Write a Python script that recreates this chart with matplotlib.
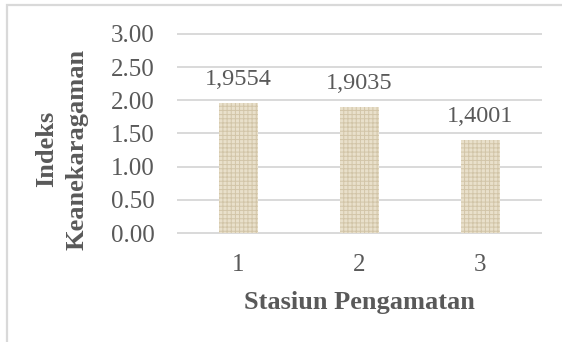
import matplotlib
matplotlib.use("Agg")
import matplotlib.pyplot as plt
from matplotlib.patches import Rectangle

# diversity index per observation station
stations = ["1", "2", "3"]
index_values = [1.9554, 1.9035, 1.4001]
y_ticks = [0.0, 0.5, 1.0, 1.5, 2.0, 2.5, 3.0]

TEXT = "#595959"
GRID = "#d9d9d9"

plt.rcParams["font.family"] = ["Liberation Serif", "DejaVu Serif"]
plt.rcParams["hatch.linewidth"] = 0.7

fig = plt.figure(figsize=(5.62, 3.42), dpi=100)
ax = fig.add_axes([0.3167, 0.3187, 0.9626 - 0.3167, 0.9006 - 0.3187])

# light frame around the whole chart, open on the right and bottom
fig.patches.append(Rectangle((0.0116, -0.2), 1.5, 0.9868 + 0.2,
                             transform=fig.transFigure, fill=False,
                             edgecolor=GRID, linewidth=1.6))

x = list(range(1, len(stations) + 1))
bars = ax.bar(x, index_values, width=0.32, color="#e9e0cb",
              edgecolor="#d2c5a8", linewidth=0, hatch="++++", zorder=2)

for xi, v in zip(x, index_values):
    ax.annotate(f"{v:.4f}".replace(".", ","), (xi, v),
                xytext=(0, 13), textcoords="offset points",
                ha="center", va="baseline", fontsize=17.5, color=TEXT)

ax.set_xlim(0.5, 3.5)
ax.set_ylim(0, 3)
ax.set_xticks(x)
ax.set_xticklabels(stations)
ax.set_yticks(y_ticks)
ax.set_yticklabels([f"{t:.2f}" for t in y_ticks])
ax.tick_params(axis="both", length=0, labelsize=18, labelcolor=TEXT)
ax.tick_params(axis="y", pad=17)
ax.tick_params(axis="x", pad=15)

ax.set_axisbelow(True)
ax.yaxis.grid(True, color=GRID, linewidth=1.4)
for gl in ax.get_ygridlines():
    gl.set_clip_on(False)
for s in ax.spines.values():
    s.set_visible(False)

fig.text(0.110, 0.564, "Indeks\nKeanekaragaman", rotation=90,
         ha="center", va="center", multialignment="center",
         fontsize=19, fontweight="bold", color=TEXT, linespacing=1.45)
fig.text(0.6397, 0.0965, "Stasiun Pengamatan", ha="center", va="baseline",
         fontsize=19, fontweight="bold", color=TEXT)

fig.savefig("out.png", dpi=100)
